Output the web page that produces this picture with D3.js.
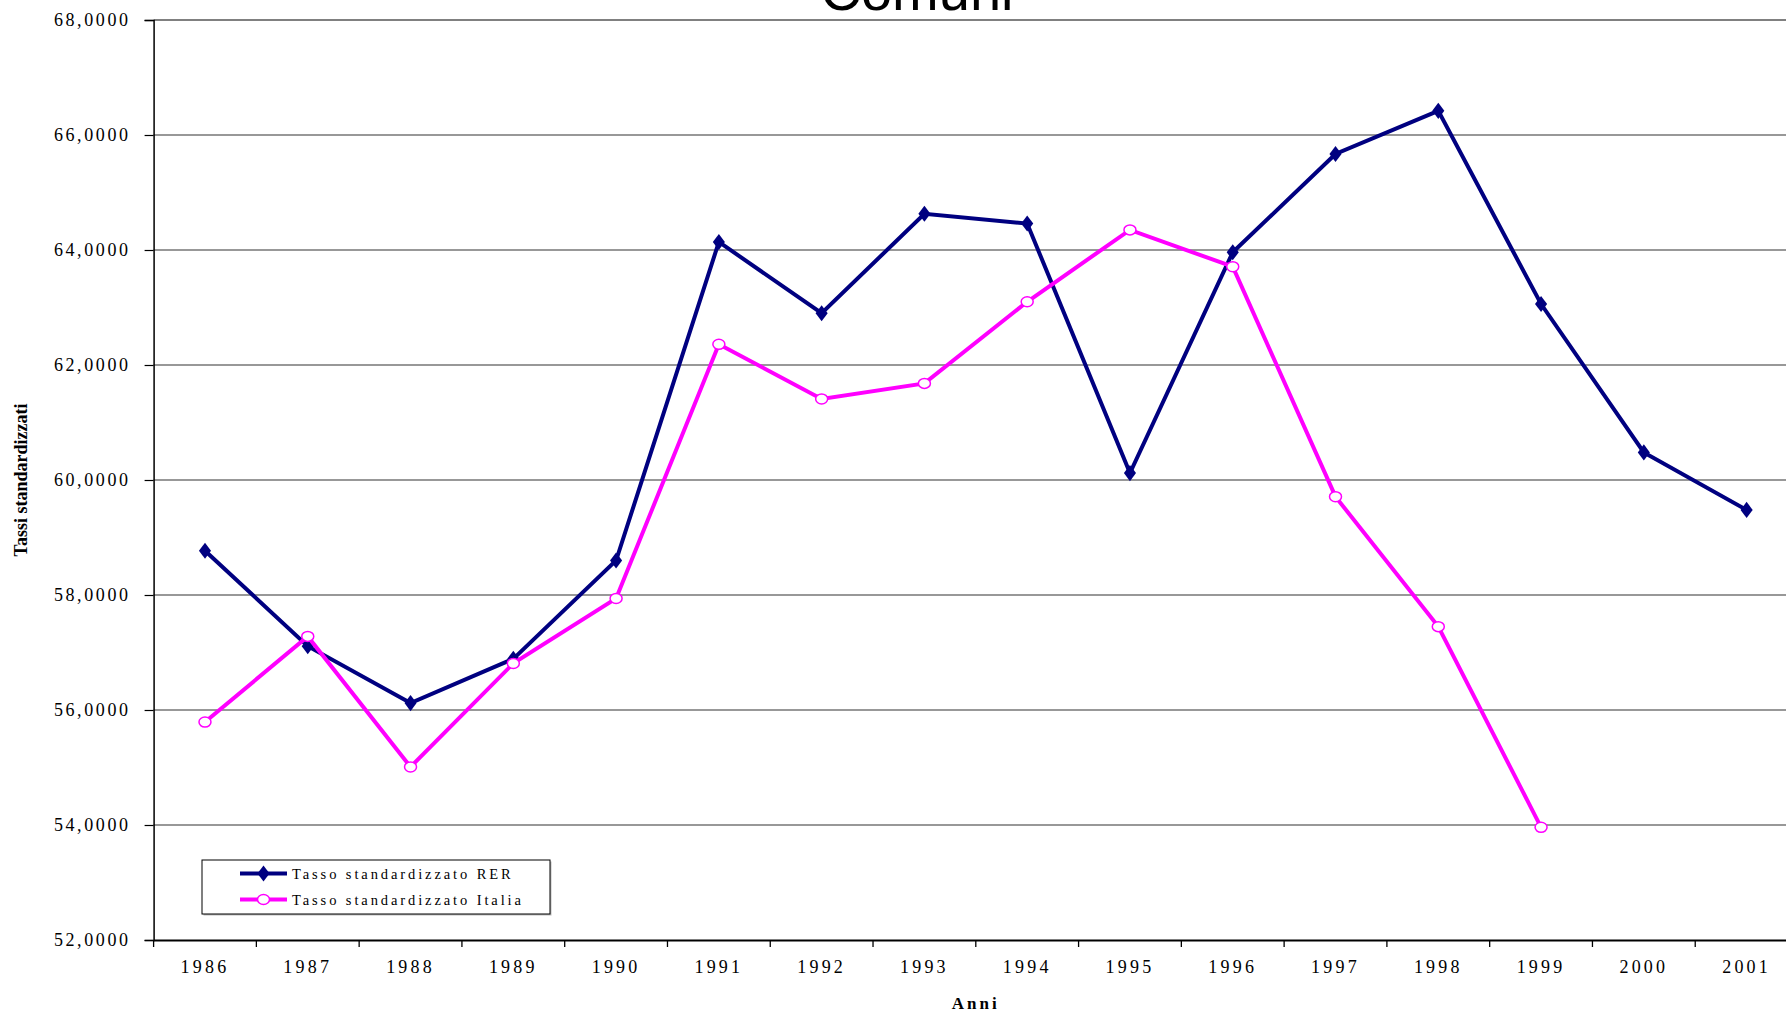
<!DOCTYPE html>
<html>
<head>
<meta charset="utf-8">
<script src="https://cdn.jsdelivr.net/npm/d3@7"></script>
<style>
  body { margin: 0; background: #fff; overflow: hidden; }
  svg { display: block; }
  .tick text { font-family: "Liberation Serif", "Times New Roman", serif; }
</style>
</head>
<body>
<div id="chart"></div>
<script>
// data
var anni = ["1986","1987","1988","1989","1990","1991","1992","1993","1994","1995","1996","1997","1998","1999","2000","2001"];
var tassoRER = [58.77, 57.11, 56.12, 56.89, 58.60, 64.14, 62.90, 64.63, 64.46, 60.12, 63.96, 65.67, 66.42, 63.06, 60.48, 59.48];
var tassoItalia = [55.79, 57.28, 55.01, 56.81, 57.94, 62.36, 61.41, 61.68, 63.10, 64.35, 63.71, 59.71, 57.45, 53.96];
var yTicks = [52, 54, 56, 58, 60, 62, 64, 66, 68];
var serie = [
  {name: "Tasso standardizzato RER", values: tassoRER, color: "#000080", marker: "diamond"},
  {name: "Tasso standardizzato Italia", values: tassoItalia, color: "#ff00ff", marker: "circle"}
];

var W = 1786, H = 1013;
var margin = {top: 20, right: -12, bottom: 73, left: 153.6},
    width = W - margin.left - margin.right,
    height = H - margin.top - margin.bottom;

var svg = d3.select("#chart").append("svg")
    .attr("width", W)
    .attr("height", H);

// title, mostly cut off at the top (as in the original)
svg.append("text")
  .attr("x", 917)
  .attr("y", 10)
  .attr("text-anchor", "middle")
  .style("font-family", "'Liberation Sans', Arial, sans-serif")
  .style("font-size", "56px")
  .text("Comuni");

var g = svg.append("g")
  .attr("transform", "translate(" + margin.left + "," + margin.top + ")");

var x = d3.scaleBand()
    .domain(anni)
    .range([0, width]);

var y = d3.scaleLinear()
    .domain([52, 68])
    .range([height, 0]);

var fmt = function(d) { return d3.format(".4f")(d).replace(".", ","); };

// gridlines
g.selectAll(".grid")
    .data(yTicks.slice(1))
  .enter().append("line")
    .attr("x1", 0)
    .attr("x2", width)
    .attr("y1", function(d) { return y(d); })
    .attr("y2", function(d) { return y(d); })
    .attr("stroke", function(d) { return d === 68 ? "#808080" : "#333"; })
    .attr("stroke-width", function(d) { return d === 68 ? 2 : 1.2; });

// y axis
var yAxis = g.append("g")
  .call(d3.axisLeft(y).tickValues(yTicks).tickFormat(fmt).tickSize(9).tickPadding(14));
yAxis.select(".domain").attr("stroke", "#000").attr("stroke-width", 1.5);
yAxis.selectAll(".tick line").attr("stroke", "#000").attr("stroke-width", 1.2);
yAxis.selectAll(".tick text")
  .style("font-size", "18px")
  .style("letter-spacing", "2.6px")
  .attr("fill", "#000");

// x axis: ticks on the band edges
var xAxis = g.append("g")
  .attr("transform", "translate(0," + height + ")")
  .call(d3.axisBottom(x).tickSize(0).tickPadding(20));
xAxis.select(".domain").attr("stroke", "#000").attr("stroke-width", 2);
xAxis.selectAll(".tick text")
  .style("font-size", "18px")
  .style("letter-spacing", "3.2px")
  .attr("fill", "#000");
xAxis.selectAll(".edge")
    .data(anni)
  .enter().append("line")
    .attr("x1", function(d) { return x(d); })
    .attr("x2", function(d) { return x(d); })
    .attr("y1", 0)
    .attr("y2", 7)
    .attr("stroke", "#000")
    .attr("stroke-width", 1.3);

// axis titles
svg.append("text")
  .attr("x", margin.left + width / 2)
  .attr("y", 1009)
  .attr("text-anchor", "middle")
  .style("font-family", "'Liberation Serif', 'Times New Roman', serif")
  .style("font-weight", "bold")
  .style("font-size", "17px")
  .style("letter-spacing", "3px")
  .text("Anni");

svg.append("text")
  .attr("transform", "translate(27," + (margin.top + height / 2) + ") rotate(-90)")
  .attr("text-anchor", "middle")
  .style("font-family", "'Liberation Serif', 'Times New Roman', serif")
  .style("font-weight", "bold")
  .style("font-size", "18px")
  .text("Tassi standardizzati");

// lines
var line = d3.line()
    .x(function(d, i) { return x(anni[i]) + x.bandwidth() / 2; })
    .y(function(d) { return y(d); });

var diamond = d3.symbol().type(d3.symbolDiamond).size(75);

serie.forEach(function(s) {
  g.append("path")
    .datum(s.values)
    .attr("fill", "none")
    .attr("stroke", s.color)
    .attr("stroke-width", 4)
    .attr("stroke-linejoin", "miter")
    .attr("d", line);

  var pts = g.selectAll(null)
      .data(s.values)
    .enter();
  if (s.marker === "diamond") {
    pts.append("path")
      .attr("d", diamond)
      .attr("transform", function(d, i) {
        return "translate(" + (x(anni[i]) + x.bandwidth() / 2) + "," + y(d) + ") scale(1.3,1)";
      })
      .attr("fill", s.color);
  } else {
    pts.append("ellipse")
      .attr("cx", function(d, i) { return x(anni[i]) + x.bandwidth() / 2; })
      .attr("cy", function(d) { return y(d); })
      .attr("rx", 6)
      .attr("ry", 5)
      .attr("fill", "#fff")
      .attr("stroke", s.color)
      .attr("stroke-width", 1.5);
  }
});

// legend
var leg = svg.append("g").attr("transform", "translate(202,860)");
leg.append("rect")
  .attr("x", 1.5).attr("y", 1.5)
  .attr("width", 348).attr("height", 54)
  .attr("fill", "#bbb");
leg.append("rect")
  .attr("width", 348).attr("height", 54)
  .attr("fill", "#fff")
  .attr("stroke", "#000")
  .attr("stroke-width", 1);

var item = leg.selectAll(".item")
    .data(serie)
  .enter().append("g")
    .attr("transform", function(d, i) { return "translate(0," + (13.5 + i * 26) + ")"; });
item.append("line")
  .attr("x1", 38).attr("x2", 85)
  .attr("stroke", function(d) { return d.color; })
  .attr("stroke-width", 4);
item.each(function(d) {
  var it = d3.select(this);
  if (d.marker === "diamond") {
    it.append("path")
      .attr("d", diamond)
      .attr("transform", "translate(61.5,0) scale(1.3,1)")
      .attr("fill", d.color);
  } else {
    it.append("ellipse")
      .attr("cx", 61.5).attr("cy", 0)
      .attr("rx", 6).attr("ry", 5)
      .attr("fill", "#fff")
      .attr("stroke", d.color)
      .attr("stroke-width", 1.5);
  }
});
item.append("text")
  .attr("x", 90)
  .attr("dy", "0.35em")
  .style("font-family", "'Liberation Serif', 'Times New Roman', serif")
  .style("font-size", "14.5px")
  .style("letter-spacing", "2.9px")
  .text(function(d) { return d.name; });
</script>
</body>
</html>
